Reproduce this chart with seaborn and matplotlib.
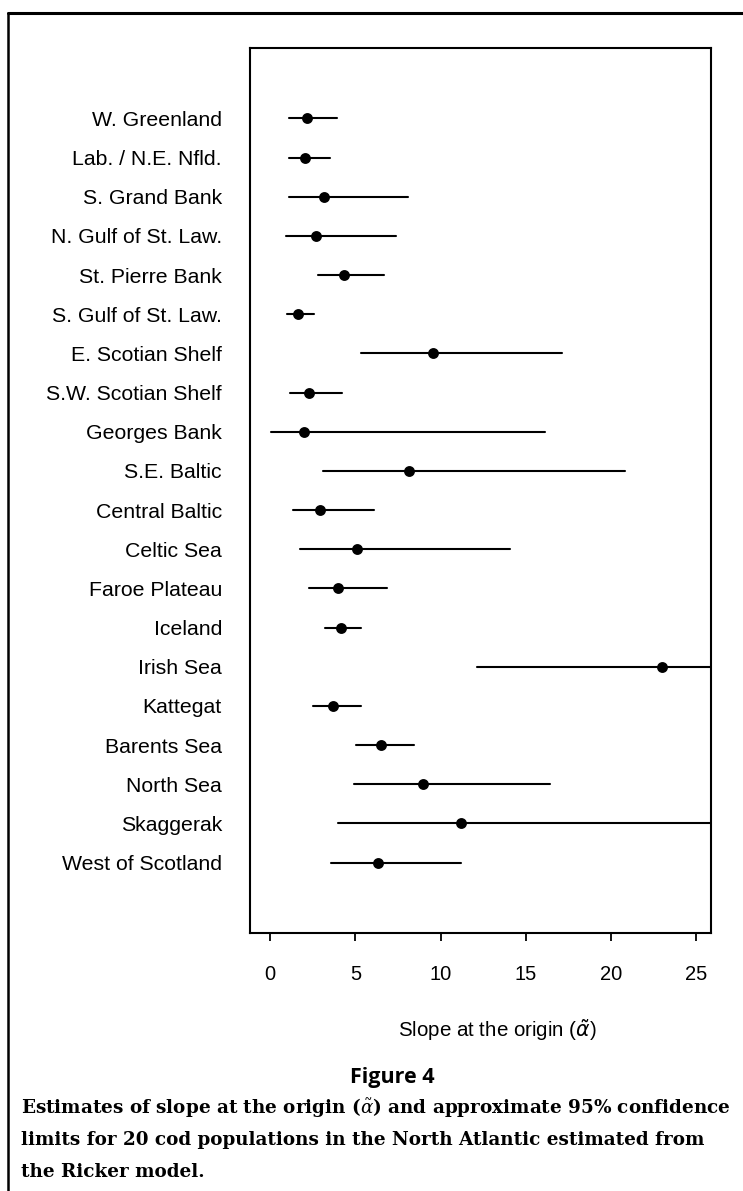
import matplotlib
matplotlib.use("Agg")
import matplotlib.pyplot as plt
from matplotlib.lines import Line2D
import pandas as pd
import seaborn as sns

# Cod stocks, top to bottom
populations = [
    "W. Greenland", "Lab. / N.E. Nfld.", "S. Grand Bank", "N. Gulf of St. Law.",
    "St. Pierre Bank", "S. Gulf of St. Law.", "E. Scotian Shelf", "S.W. Scotian Shelf",
    "Georges Bank", "S.E. Baltic", "Central Baltic", "Celtic Sea", "Faroe Plateau",
    "Iceland", "Irish Sea", "Kattegat", "Barents Sea", "North Sea", "Skaggerak",
    "West of Scotland",
]
# Slope at the origin and approximate 95% limits
alpha_est = [2.13, 2.03, 3.15, 2.68, 4.30, 1.60, 9.52, 2.25, 1.98, 8.13,
             2.90, 5.07, 3.97, 4.15, 22.97, 3.68, 6.49, 8.97, 11.17, 6.32]
alpha_lo = [1.10, 1.10, 1.10, 0.90, 2.78, 0.98, 5.30, 1.16, 0.06, 3.11,
            1.35, 1.72, 2.29, 3.21, 12.10, 2.52, 5.03, 4.91, 3.95, 3.54]
alpha_hi = [3.89, 3.50, 8.09, 7.37, 6.67, 2.58, 17.09, 4.19, 16.09, 20.80,
            6.10, 14.06, 6.82, 5.30, 30.0, 5.34, 8.43, 16.40, 30.0, 11.18]
x_ticks = [0, 5, 10, 15, 20, 25]

# long form: three values per stock, the median is the estimate, the range the CI
rows = []
for name, lo, est, hi in zip(populations, alpha_lo, alpha_est, alpha_hi):
    for v in (lo, est, hi):
        rows.append({"population": name, "alpha": v})
df = pd.DataFrame(rows)

sns.set_theme(style="white")
plt.rcParams["font.family"] = ["Liberation Sans", "DejaVu Sans"]
plt.rcParams["axes.linewidth"] = 1.5

fig = plt.figure(figsize=(7.43, 11.91), dpi=100)
ax = fig.add_axes([0.3371, 0.2166, 0.6198, 0.7431])

sns.pointplot(
    data=df, x="alpha", y="population", order=populations,
    estimator="median", errorbar=lambda v: (v.min(), v.max()),
    color="black", markers="o", linestyle="none", markersize=5.8,
    err_kws={"linewidth": 1.5}, ax=ax,
)

ax.set_xlim(-1.16, 25.85)
ax.set_ylim(len(populations) - 1 + 1.8, -1.8)
ax.set_xticks(x_ticks)
ax.set_xticklabels([str(t) for t in x_ticks])
ax.set_ylabel("")
ax.set_xlabel("")
for s in ax.spines.values():
    s.set_visible(True)
    s.set_color("black")
    s.set_linewidth(1.5)

ax.tick_params(axis="y", length=0, pad=20.5, labelsize=15.3, labelcolor="black")
ax.tick_params(axis="x", direction="out", length=5.5, width=1.3, pad=17.5,
               labelsize=14.5, labelcolor="black", bottom=True, color="black")

fig.text(497 / 743, 1 - 1030 / 1191, r"Slope at the origin ($\tilde{\alpha}$)",
         ha="center", va="center", fontsize=14.8, color="black",
         math_fontfamily="dejavusans")

fig.text(392 / 743, 1 - 1077 / 1191, "Figure 4", ha="center", va="center",
         fontsize=15.5, fontweight="bold", family=["Open Sans", "DejaVu Sans"],
         color="black")

caption = [
    r"Estimates of slope at the origin ($\tilde{\alpha}$) and approximate 95% confidence",
    "limits for 20 cod populations in the North Atlantic estimated from",
    "the Ricker model.",
]
cap_y = [1108, 1140, 1172]
for line, yy in zip(caption, cap_y):
    fig.text(21 / 743, 1 - yy / 1191, line, ha="left", va="center",
             fontsize=13.25, fontweight="bold", family=["DejaVu Serif"],
             math_fontfamily="dejavuserif", color="black")

# outer frame of the figure panel
fig.add_artist(Line2D([8 / 743, 1.0], [1 - 13 / 1191, 1 - 13 / 1191],
                      transform=fig.transFigure, color="black", linewidth=2.2))
fig.add_artist(Line2D([8 / 743, 8 / 743], [1 - 13 / 1191, 0.0],
                      transform=fig.transFigure, color="black", linewidth=1.8))

fig.savefig("out.png", dpi=100, facecolor="white")
